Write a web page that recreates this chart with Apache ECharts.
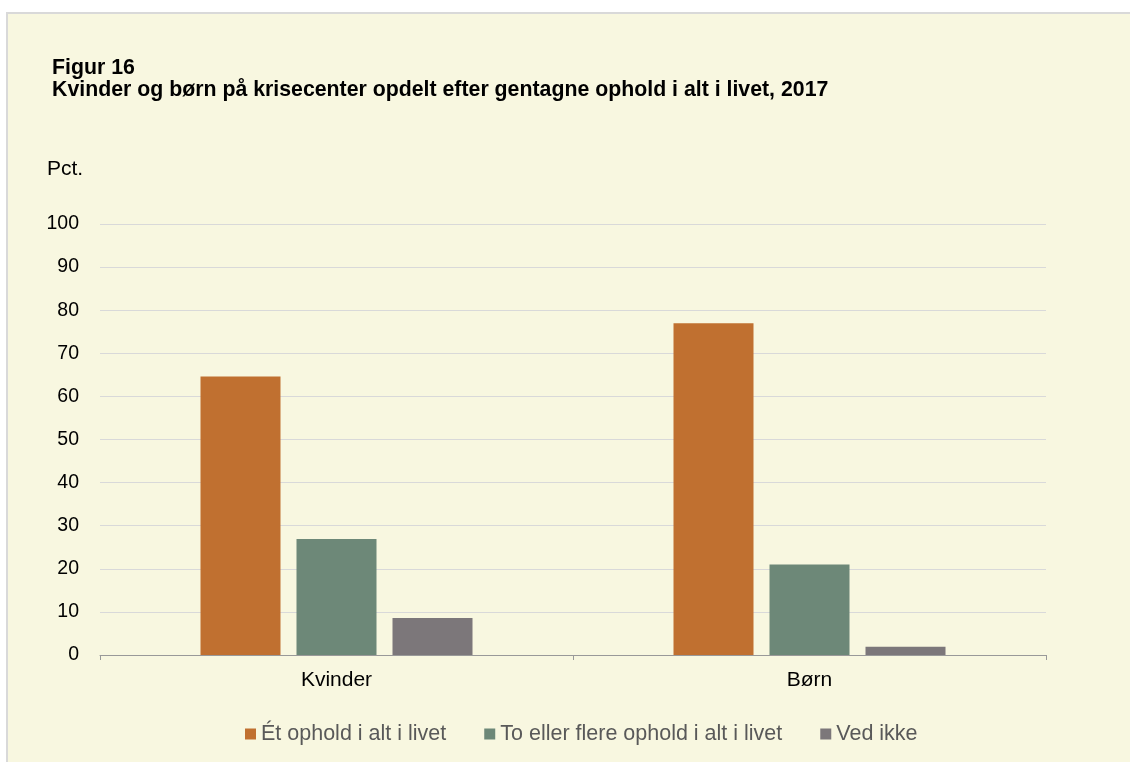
<!DOCTYPE html>
<html>
<head>
<meta charset="utf-8">
<script src="https://cdn.jsdelivr.net/npm/echarts@6/dist/echarts.min.js"></script>
<style>
html,body{margin:0;padding:0;background:#ffffff;}
#chart{width:1130px;height:762px;}
</style>
</head>
<body>
<div id="chart"></div>
<script>
var categories = ['Kvinder', 'Børn'];
var seriesNames = ['Ét ophold i alt i livet', 'To eller flere ophold i alt i livet', 'Ved ikke'];
var etOphold = [64.6, 77.0];
var toEllerFlere = [26.9, 21.0];
var vedIkke = [8.6, 1.9];
var yTicks = [0, 10, 20, 30, 40, 50, 60, 70, 80, 90, 100];

var colors = ['#C07030', '#6D8878', '#7C777A'];
var font = '"Liberation Sans", Arial, sans-serif';

var chart = echarts.init(document.getElementById('chart'), null, {renderer: 'canvas'});
chart.setOption({
  animation: false,
  backgroundColor: '#ffffff',
  graphic: [{
    type: 'rect',
    z: -10,
    silent: true,
    shape: {x: 7, y: 13, width: 1130, height: 760},
    style: {fill: '#F8F7E0', stroke: '#D9D9D9', lineWidth: 2}
  }],
  title: [{
    text: 'Figur 16\nKvinder og børn på krisecenter opdelt efter gentagne ophold i alt i livet, 2017',
    left: 52,
    top: 57,
    padding: 0,
    textStyle: {fontFamily: font, fontSize: 21.3, fontWeight: 'bold', color: '#000000', lineHeight: 22}
  }, {
    text: 'Pct.',
    left: 47,
    top: 159,
    padding: 0,
    textStyle: {fontFamily: font, fontSize: 21, fontWeight: 'normal', color: '#000000'}
  }],
  legend: {
    top: 723,
    left: 245,
    itemWidth: 11,
    itemHeight: 11,
    itemGap: 38,
    padding: 0,
    icon: 'rect',
    textStyle: {fontFamily: font, fontSize: 21.5, color: '#595959'},
    data: seriesNames
  },
  grid: {left: 100, right: 84, top: 224, bottom: 107, containLabel: false},
  xAxis: {
    type: 'category',
    data: categories,
    axisLine: {show: true, lineStyle: {color: '#999999', width: 1}},
    axisTick: {show: true, length: 5, lineStyle: {color: '#999999'}},
    axisLabel: {fontFamily: font, fontSize: 21, color: '#000000', margin: 15}
  },
  yAxis: {
    type: 'value',
    min: yTicks[0],
    max: yTicks[yTicks.length - 1],
    interval: 10,
    axisLine: {show: false},
    axisTick: {show: false},
    axisLabel: {fontFamily: font, fontSize: 19.5, color: '#000000', margin: 21},
    splitLine: {lineStyle: {color: '#D9D9D9', width: 1}}
  },
  series: [
    {name: seriesNames[0], type: 'bar', data: etOphold, barWidth: 80, barGap: '20%', itemStyle: {color: colors[0]}},
    {name: seriesNames[1], type: 'bar', data: toEllerFlere, barWidth: 80, barGap: '20%', itemStyle: {color: colors[1]}},
    {name: seriesNames[2], type: 'bar', data: vedIkke, barWidth: 80, barGap: '20%', itemStyle: {color: colors[2]}}
  ]
});
</script>
</body>
</html>
